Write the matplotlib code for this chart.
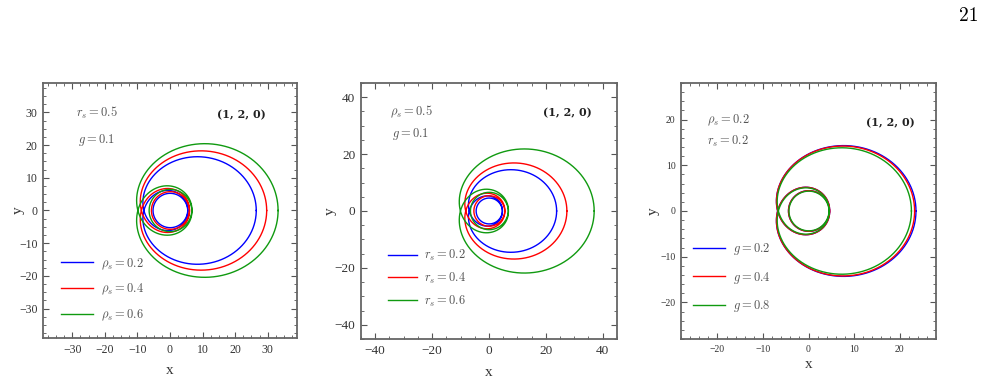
import numpy as np
import matplotlib
matplotlib.use('Agg')
import matplotlib.pyplot as plt
from matplotlib.ticker import MultipleLocator

plt.rcParams['mathtext.fontset'] = 'cm'
plt.rcParams['font.family'] = ['Liberation Serif', 'DejaVu Serif']

colors = ['blue', 'red', '#109a10']

# (z, w, v) of the periodic orbit; q = w + v/z
orbit_label = (1, 2, 0)

# panel 1: r_s = 0.5, g = 0.1, varying rho_s
rho_vals = [0.2, 0.4, 0.6]
r_apo_1 = [26.5, 29.7, 33.2]
r_peri_1 = [5.2, 5.7, 6.4]

# panel 2: rho_s = 0.5, g = 0.1, varying r_s
rs_vals = [0.2, 0.4, 0.6]
r_apo_2 = [23.8, 27.4, 37.0]
r_peri_2 = [4.5, 5.3, 6.5]

# panel 3: rho_s = 0.2, r_s = 0.2, varying g
g_vals = [0.2, 0.4, 0.8]
r_apo_3 = [23.6, 23.3, 22.6]
r_peri_3 = [4.4, 4.4, 4.3]


def orbit(r_apo, r_peri, q, n=40001):
    # quasi-Keplerian orbit, precession fixed so that apo->apo sweeps 2*pi*(1+q)
    e = (r_apo - r_peri) / (r_apo + r_peri)
    p = 2 * r_apo * r_peri / (r_apo + r_peri)
    chi = np.linspace(np.pi, 3 * np.pi, n)
    target = 2 * np.pi * (1 + q)

    def sweep(m):
        f = 1 / np.sqrt(1 - m * (6 + 2 * e * np.cos(chi)) / p)
        phi = np.concatenate([[0], np.cumsum(0.5 * (f[1:] + f[:-1]) * np.diff(chi))])
        return phi

    lo, hi = 0.0, p / (6 + 2 * e) * (1 - 1e-9)
    for i in range(80):
        mid = 0.5 * (lo + hi)
        if sweep(mid)[-1] < target:
            lo = mid
        else:
            hi = mid
    phi = sweep(lo)
    r = p / (1 + e * np.cos(chi))
    return r * np.cos(phi), r * np.sin(phi)


fig = plt.figure(figsize=(9.83, 3.83), dpi=100)
fig.text(0.995, 0.958, '21', ha='right', va='center', fontsize=14, family='cmr10')

q = orbit_label[1] + orbit_label[2] / orbit_label[0]
tag = '(%d, %d, %d)' % orbit_label

panels = [
    dict(rect=[0.0437, 0.1175, 0.2584, 0.6658], lim=39, major=10, minor=2.5, tsize=8.5,
         apo=r_apo_1, peri=r_peri_1, vals=rho_vals, lab=r'$\rho_s = %.1f$',
         notes=[r'$r_s = 0.5$', r'$g = 0.1$'], note_pos=[(0.13, 0.882), (0.138, 0.776)],
         tag_pos=(0.78, 0.875), leg=(0.07, 0.189), hl=2.6, ls=0.85, xl=370, yl=18),
    dict(rect=[0.3672, 0.1149, 0.2604, 0.6684], lim=45, major=20, minor=5, tsize=9.5,
         apo=r_apo_2, peri=r_peri_2, vals=rs_vals, lab=r'$r_s = %.1f$',
         notes=[r'$\rho_s = 0.5$', r'$g = 0.1$'], note_pos=[(0.113, 0.887), (0.121, 0.80)],
         tag_pos=(0.805, 0.883), leg=(0.105, 0.237), hl=2.3, ls=0.62, xl=372, yl=330),
    dict(rect=[0.6928, 0.1149, 0.2594, 0.6684], lim=28, major=10, minor=2, tsize=7,
         apo=r_apo_3, peri=r_peri_3, vals=g_vals, lab=r'$g = %.1f$',
         notes=[r'$\rho_s = 0.2$', r'$r_s = 0.2$'], note_pos=[(0.102, 0.855), (0.102, 0.77)],
         tag_pos=(0.82, 0.844), leg=(0.046, 0.24), hl=2.6, ls=1.0, xl=364, yl=653),
]

for pn in panels:
    ax = fig.add_axes(pn['rect'])
    for ra, rp, v, c in zip(pn['apo'], pn['peri'], pn['vals'], colors):
        x, y = orbit(ra, rp, q)
        ax.plot(x, y, color=c, lw=1.0, label=pn['lab'] % v)
    lim = pn['lim']
    ax.set_xlim(-lim, lim)
    ax.set_ylim(-lim, lim)
    ax.xaxis.set_major_locator(MultipleLocator(pn['major']))
    ax.yaxis.set_major_locator(MultipleLocator(pn['major']))
    ax.xaxis.set_minor_locator(MultipleLocator(pn['minor']))
    ax.yaxis.set_minor_locator(MultipleLocator(pn['minor']))
    ax.tick_params(which='both', direction='in', top=True, right=True, color='#555555',
                   labelcolor='#333333', labelsize=pn['tsize'], pad=4)
    ax.tick_params(which='major', length=4, width=0.8)
    ax.tick_params(which='minor', length=2, width=0.6)
    for s in ax.spines.values():
        s.set_color('#666666')
        s.set_linewidth(1.3)

    for txt, (tx, ty) in zip(pn['notes'], pn['note_pos']):
        ax.text(tx, ty, txt, transform=ax.transAxes, ha='left', va='center',
                fontsize=9, color='#555555')
    ax.text(pn['tag_pos'][0], pn['tag_pos'][1], tag, transform=ax.transAxes,
            ha='center', va='center', fontsize=8, fontweight='bold',
            family='DejaVu Serif', color='#222222')
    ax.legend(loc='center left', bbox_to_anchor=pn['leg'], frameon=False, fontsize=9,
              labelcolor='#555555', handlelength=pn['hl'], labelspacing=pn['ls'],
              handletextpad=0.6, borderpad=0, borderaxespad=0)

    # axis labels placed in figure pixels
    cx = (pn['rect'][0] + pn['rect'][2] / 2)
    cy = (pn['rect'][1] + pn['rect'][3] / 2)
    fig.text(cx, 1 - pn['xl'] / 383, 'x', ha='center', va='center', fontsize=11, color='#333333')
    fig.text(pn['yl'] / 983, cy, 'y', ha='center', va='center', fontsize=11,
             color='#333333', rotation=90)

fig.savefig('out.png', dpi=100)
